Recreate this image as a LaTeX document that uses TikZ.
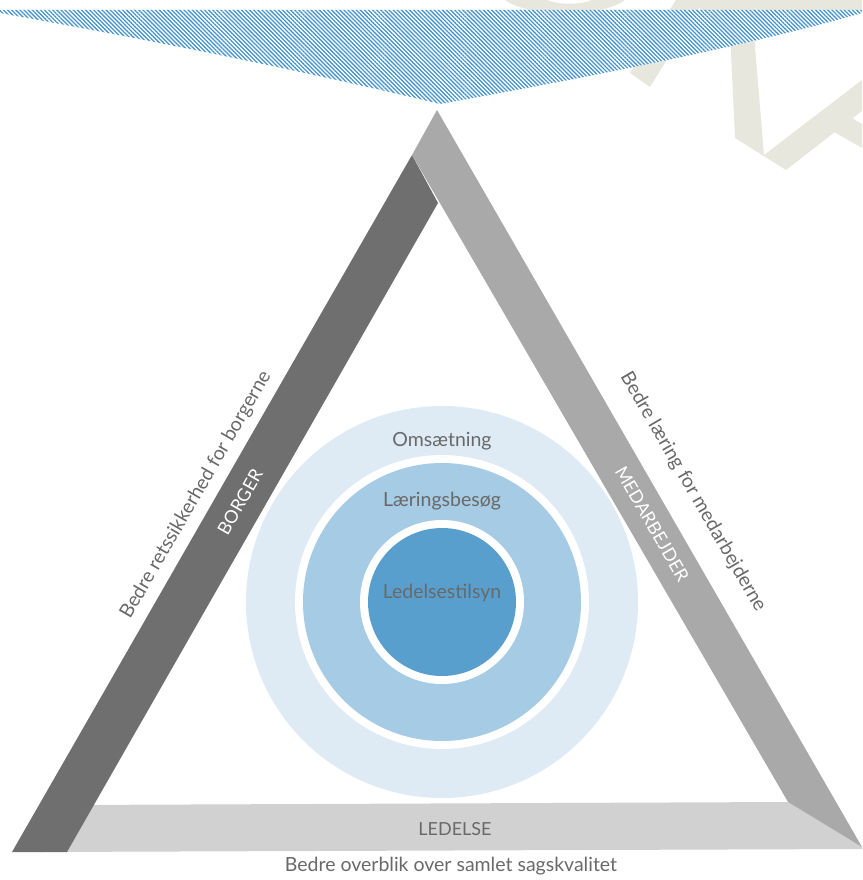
\documentclass[tikz,border=0pt]{standalone}
\usepackage{fontspec}
\setmainfont{Lato}
\usepackage{tikz}
\usetikzlibrary{positioning,patterns.meta}
\definecolor{hatchblue}{RGB}{70,148,206}
\definecolor{beige}{RGB}{232,231,222}
\definecolor{borgergray}{RGB}{111,111,111}
\definecolor{medgray}{RGB}{169,169,169}
\definecolor{ledgray}{RGB}{209,209,209}
\definecolor{ringlight}{RGB}{222,234,244}
\definecolor{ringmid}{RGB}{166,203,228}
\definecolor{ringdark}{RGB}{89,159,206}
\definecolor{textgray}{RGB}{105,105,105}

\begin{document}
\begin{tikzpicture}[x=1pt,y=-1pt,ring/.style={circle,inner sep=0pt,draw=none},lbl/.style={text=textgray,font=\fontsize{19.5}{22}\selectfont},caps/.style={font=\fontsize{18}{21}\selectfont}]
	\useasboundingbox (0,0) rectangle (862,880);
	% watermark
	\fill[beige]	(505,0) .. controls (530,18) and (600,18) .. (625,0) -- (592,0) .. controls (580,5) and (560,5) .. (547,0) -- cycle;
	\fill[beige]	(630,73) -- (650,87) -- (704,0) -- (676,0) -- cycle;
	\fill[beige]	(690,0) -- (862,0) -- (862,10) -- (702,10) -- cycle;
	\fill[beige]	(729,10) -- (735,138) -- (786,170) -- (862,111) -- (862,80) -- (764,155) -- (752,10) -- cycle;
	\fill[beige]	(834,132) -- (852,118) -- (862,124) -- (862,148) -- cycle;
	% hatched top band
	\path[preaction={fill=white},pattern={Lines[angle=-45,distance=2.9pt,line width=1.3pt]},pattern color=hatchblue]
		(0,10) -- (862,10) -- (862,13) .. controls (750,45) and (600,75) .. (440,104) .. controls (300,70) and (150,40) .. (0,13) -- cycle;
	% triangle
	\fill[ledgray]		(40,852) -- (68,805) -- (788,802) -- (862,847) -- (862,849) -- cycle;
	\fill[borgergray]	(12,852) -- (412,155) -- (438,203) -- (67,852) -- cycle;
	\fill[medgray]		(437,110) -- (862,847) -- (788,802) -- (412,155) -- cycle;
	% circles
	\node[ring,fill=ringlight,minimum size=392pt]	(omsaetning)	at (442,602)			{};
	\node[ring,fill=white,minimum size=294pt]		(laeringgap)	at (omsaetning.center)	{};
	\node[ring,fill=ringmid,minimum size=278pt]		(laering)		at (omsaetning.center)	{};
	\node[ring,fill=white,minimum size=164pt]		(tilsyngap)		at (omsaetning.center)	{};
	\node[ring,fill=ringdark,minimum size=148pt]	(tilsyn)		at (omsaetning.center)	{};
	\node[lbl]	(omsaetningtxt)	[below=23pt of omsaetning.north]	{Omsætning};
	\node[lbl]	(laeringtxt)	[below=26pt of laering.north]		{Læringsbesøg};
	\node[lbl]	(tilsyntxt)		at (442,593)						{Ledelsestilsyn};
	% labels
	\node[caps,text=white,rotate=60]	(borger)		at (240,502)	{BORGER};
	\node[lbl,rotate=60]				(borgertxt)		at (196,495)	{Bedre retssikkerhed for borgerne};
	\node[caps,text=white,rotate=-60]	(medarbejder)	at (652,524)	{MEDARBEJDER};
	\node[lbl,rotate=-60]				(medarbejdertxt) at (693,492)	{Bedre læring for medarbejderne};
	\node[caps,text=textgray]			(ledelse)		at (455,829)	{LEDELSE};
	\node[lbl]							(ledelsetxt)	at (451,866)	{Bedre overblik over samlet sagskvalitet};
\end{tikzpicture}
\end{document}
